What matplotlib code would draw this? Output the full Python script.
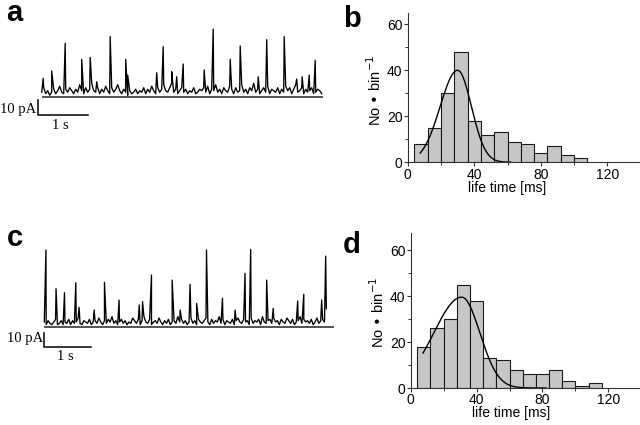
import numpy as np
import matplotlib
matplotlib.use('Agg')
import matplotlib.pyplot as plt
from matplotlib.ticker import MultipleLocator

plt.rcParams['font.family'] = ['Liberation Sans', 'DejaVu Sans']

# ---------------- data ----------------
# histogram bins (ms) and counts
bin_width = 8
b_first_edge = 4
b_counts = [8, 15, 30, 48, 18, 12, 13, 9, 8, 4, 7, 3, 2]
d_first_edge = 4
d_counts = [18, 26, 30, 45, 38, 13, 12, 8, 6, 6, 8, 3, 1, 2]

# fitted curves: amplitude, peak (ms), left/right widths (ms), range (ms)
b_fit_amp, b_fit_mu, b_fit_sl, b_fit_sr = 40.0, 30.0, 10.5, 8.3
b_fit_range = (7.5, 62.0)
d_fit_amp, d_fit_mu, d_fit_sl, d_fit_sr = 39.5, 31.0, 17.0, 11.0
d_fit_range = (7.5, 82.0)

# current traces: background samples every 0.04 s (pA) and spike peaks (s, pA)
trace_dt = 0.04
a_noise = [3, 6, 2, 4, 1, 3, 5, 2, 4, 7, 3, 2, 5, 3, 6, 4, 2, 5, 3, 8,
           4, 2, 6, 3, 5, 9, 4, 3, 6, 2, 5, 3, 7, 4, 2, 6, 3, 5, 8, 4,
           2, 5, 3, 1, 4, 2, 3, 5, 2, 4, 3, 6, 2, 5, 3, 7, 4, 2, 6, 3,
           5, 8, 4, 3, 6, 9, 3, 5, 2, 4, 6, 3, 5, 2, 4, 3, 6, 2, 3, 5,
           4, 6, 3, 7, 2, 5, 4, 8, 3, 5, 2, 6, 4, 3, 7, 5, 2, 6, 3, 4,
           8, 3, 5, 2, 6, 4, 9, 3, 5, 2, 4, 6, 3, 7, 2, 5, 4, 3, 6, 2,
           5, 3, 7, 4, 6, 2, 5, 8, 3, 4, 6, 2, 5, 3, 4, 6, 2, 3, 5, 4, 2]
a_peak_t = [0.03, 0.20, 0.47, 0.80, 0.97, 1.10, 1.37, 1.68, 1.72, 2.30, 2.43, 2.60,
            2.70, 2.83, 3.25, 3.43, 3.77, 3.97, 4.33, 4.50, 4.85, 5.10, 5.21, 5.35, 5.47]
a_peak_amp = [12.2, 17.1, 35.6, 24.9, 26.2, 10.0, 40.0, 24.9, 14.4, 16.0, 33.3, 16.7,
              13.3, 21.8, 17.8, 45.1, 24.9, 33.8, 13.3, 38.0, 40.0, 11.8, 13.3, 14.4, 24.2]

c_noise = [4, 2, 5, 3, 2, 4, 6, 2, 3, 5, 2, 4, 3, 6, 2, 5, 3, 4, 7, 3,
           2, 5, 4, 3, 6, 2, 4, 5, 3, 7, 4, 2, 5, 3, 6, 4, 8, 3, 5, 2,
           4, 6, 3, 5, 2, 4, 3, 7, 5, 3, 6, 2, 5, 8, 4, 3, 6, 2, 4, 5,
           3, 7, 4, 2, 5, 3, 6, 2, 4, 5, 3, 8, 4, 6, 3, 5, 2, 4, 7, 3,
           5, 2, 6, 4, 3, 5, 7, 4, 2, 6, 3, 5, 4, 8, 3, 6, 2, 5, 4, 3,
           6, 2, 5, 7, 4, 3, 6, 4, 5, 2, 7, 3, 5, 4, 6, 2, 8, 4, 3, 5,
           6, 3, 7, 4, 5, 2, 6, 4, 3, 7, 5, 3, 6, 2, 4, 5, 8, 3, 6, 4,
           5, 3, 6, 2, 4, 7, 3, 5, 6, 4, 14]
c_peak_t = [0.035, 0.25, 0.43, 0.67, 0.74, 1.06, 1.28, 1.59, 2.02, 2.09, 2.28, 2.72, 2.89,
            3.10, 3.24, 3.45, 3.79, 4.06, 4.27, 4.39, 4.73, 4.87, 5.39, 5.52, 5.90, 5.985]
c_peak_amp = [58, 29, 26, 33.5, 15, 13, 33.8, 20.5, 16.8, 19.3, 39.3, 35.5, 13,
              32.3, 18, 58, 21.8, 13, 40.5, 58.5, 35.5, 14.3, 19.8, 24.8, 20.5, 53.5]

a_baseline_end = 5.63
c_baseline_end = 6.17

# ---------------- layout helpers ----------------
W, H = 640, 425
fig = plt.figure(figsize=(W / 100, H / 100), dpi=100)


def ax_px(l, t, r, b):
    return fig.add_axes([l / W, 1 - b / H, (r - l) / W, (b - t) / H])


def draw_trace(ax, noise, peak_t, peak_amp, base_end, bar_x, bar_top, bar_bot,
               lbl_y, s_y):
    t = list(np.arange(len(noise)) * trace_dt) + list(peak_t)
    v = list(noise) + list(peak_amp)
    order = np.argsort(t, kind='stable')
    ax.plot(np.asarray(t)[order], np.asarray(v)[order], color='black', lw=0.95)
    ax.plot([0, base_end], [0, 0], color='#444444', lw=1.3, solid_capstyle='butt')
    # scale bar 1 s / 10 pA
    ax.plot([bar_x, bar_x, bar_x + 1.0], [bar_top, bar_bot, bar_bot],
            color='black', lw=1.1)
    ax.text(bar_x - 0.03, lbl_y, '10 pA', ha='right', va='center',
            family=['Liberation Serif', 'DejaVu Serif'], fontsize=10.5)
    ax.text(bar_x + 0.44, s_y, '1 s', ha='center', va='center',
            family=['Liberation Serif', 'DejaVu Serif'], fontsize=10.5)
    ax.axis('off')


def split_gauss(x, amp, mu, sl, sr):
    s = np.where(x < mu, sl, sr)
    return amp * np.exp(-(x - mu) ** 2 / (2 * s ** 2))


def draw_hist(ax, first_edge, counts, fit, fit_range, xmax, ymax, ylab_xy, xlab_xy):
    lefts = first_edge + bin_width * np.arange(len(counts))
    ax.bar(lefts, counts, width=bin_width, align='edge', color='#c6c6c6',
           edgecolor='#1a1a1a', lw=0.8)
    xs = np.linspace(fit_range[0], fit_range[1], 300)
    ax.plot(xs, split_gauss(xs, *fit), color='black', lw=1.0)
    ax.set_xlim(0, xmax)
    ax.set_ylim(0, ymax)
    ax.xaxis.set_major_locator(MultipleLocator(40))
    ax.xaxis.set_minor_locator(MultipleLocator(20))
    ax.yaxis.set_major_locator(MultipleLocator(20))
    ax.yaxis.set_minor_locator(MultipleLocator(10))
    for s in ('top', 'right'):
        ax.spines[s].set_visible(False)
    for s in ('left', 'bottom'):
        ax.spines[s].set_color('#333333')
        ax.spines[s].set_linewidth(0.8)
    ax.tick_params(which='major', direction='out', length=3, width=0.8,
                   labelsize=10, pad=0.8, color='#333333')
    ax.tick_params(which='minor', direction='out', length=2, width=0.7, color='#333333')
    ax.set_ylabel('No \u2022 bin$^{-1}$', fontsize=10.5)
    ax.yaxis.set_label_coords(*ylab_xy)
    ax.set_xlabel('life time [ms]', fontsize=10)
    ax.xaxis.set_label_coords(*xlab_xy)


# ---------------- panels ----------------
ax_a = ax_px(30, 20, 330, 135)
ax_a.set_xlim(-0.234, 5.766)
ax_a.set_ylim(-25.5, 51.1)
draw_trace(ax_a, a_noise, a_peak_t, a_peak_amp, a_baseline_end,
           -0.074, -2.2, -12.2, -8.4, -18.9)

ax_c = ax_px(30, 240, 340, 365)
ax_c.set_xlim(-0.304, 6.29)
ax_c.set_ylim(-28.3, 65.6)
draw_trace(ax_c, c_noise, c_peak_t, c_peak_amp, c_baseline_end,
           0.0, -4.5, -14.6, -8.3, -22.0)

ax_b = ax_px(407.7, 13, 640, 162.3)
draw_hist(ax_b, b_first_edge, b_counts,
          (b_fit_amp, b_fit_mu, b_fit_sl, b_fit_sr), b_fit_range,
          139.6, 64.9, (-0.1, 0.484), (0.427, -0.128))

ax_d = ax_px(410.7, 233, 640, 388)
draw_hist(ax_d, d_first_edge, d_counts,
          (d_fit_amp, d_fit_mu, d_fit_sl, d_fit_sr), d_fit_range,
          139.2, 67.4, (-0.105, 0.485), (0.44, -0.118))

for lab, x, y in (('a', 6, 21), ('b', 343, 27), ('c', 7, 246), ('d', 343, 253)):
    fig.text(x / W, 1 - y / H, lab, fontsize=21, fontweight='bold', va='baseline')

fig.savefig('out.png', dpi=100)
